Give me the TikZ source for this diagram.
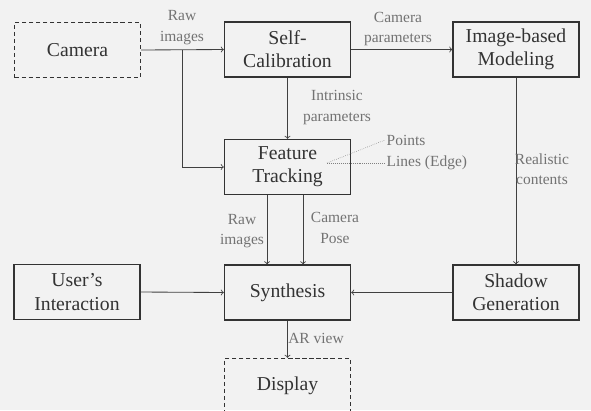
\documentclass[tikz,border=0pt]{standalone}
\usepackage{fontspec}
\setmainfont{Liberation Serif}
\begin{document}
\begin{tikzpicture}[x=0.025cm,y=-0.025cm,blk/.style={shape=rectangle,draw=black!80,line width=0.9pt,minimum width=3.15cm,minimum height=1.375cm,align=center,text=black!80,font=\rmfamily\fontsize{14}{16.5}\selectfont},blkD/.style={blk,dashed,dash pattern=on 3pt off 2pt},lbl/.style={align=center,text=black!55,font=\rmfamily\fontsize{11}{14.5}\selectfont,inner sep=1pt},arr/.style={->,draw=black!75,line width=0.6pt}]
\def\dxa{0.51cm};
\def\dxb{0.39cm};

\fill[black!5] (0,0) rectangle (591,410);
\useasboundingbox (0,0) rectangle (591,410);

\node[blkD] (Cam) at (77.5,50) {Camera};
\node[blk] (SC) at (287.5,49.5) {Self-\\Calibration};
\node[blk] (IBM) at (516,49.5) {Image-based\\Modeling};
\node[blk] (FT) at (287.5,167) {Feature\\Tracking};
\node[blk] (Syn) at (287.5,292.5) {Synthesis};
\node[blk] (UI) at (77,292) {User's\\Interaction};
\node[blk] (SG) at (516,292.5) {Shadow\\Generation};
\node[blkD] (Disp) at (287.5,386) {Display};

\draw[arr] (Cam.east) -- (SC.west);
\coordinate (br) at (182,50);
\draw[arr] (br) |- (FT.west);
\node[lbl] (rawA) at (182,27.5) {Raw\\images};

\draw[arr] (SC.east) -- (IBM.west);
\node[lbl] (cp) at (398,29) {Camera\\parameters};

\draw[arr] (SC.south) -- (FT.north);
\node[lbl] (ip) at (337,107.5) {Intrinsic\\parameters};

\coordinate (ftc) at (327,163);
\node[lbl,anchor=west] (pts) at (385,140) {Points};
\node[lbl,anchor=west] (lns) at (385,163) {Lines (Edge)};
\draw[black!50,densely dotted] (ftc) -- (pts.west);
\draw[black!50,densely dotted] (ftc) -- (lns.west);

\draw[arr] ([xshift=-\dxa]FT.south) -- ([xshift=-\dxa]Syn.north);
\node[lbl] (rawB) at (242,231) {Raw\\images};
\draw[arr] ([xshift=\dxb]FT.south) -- ([xshift=\dxb]Syn.north);
\node[lbl] (pose) at (335,228) {Camera\\Pose};

\draw[arr] (IBM.south) -- (SG.north);
\node[lbl] (rc) at (542,169) {Realistic\\contents};

\draw[arr] (UI.east) -- (Syn.west);
\draw[arr] (SG.west) -- (Syn.east);

\draw[arr] (Syn.south) -- (Disp.north);
\node[lbl] (ar) at (316,338) {AR view};
\end{tikzpicture}
\end{document}
